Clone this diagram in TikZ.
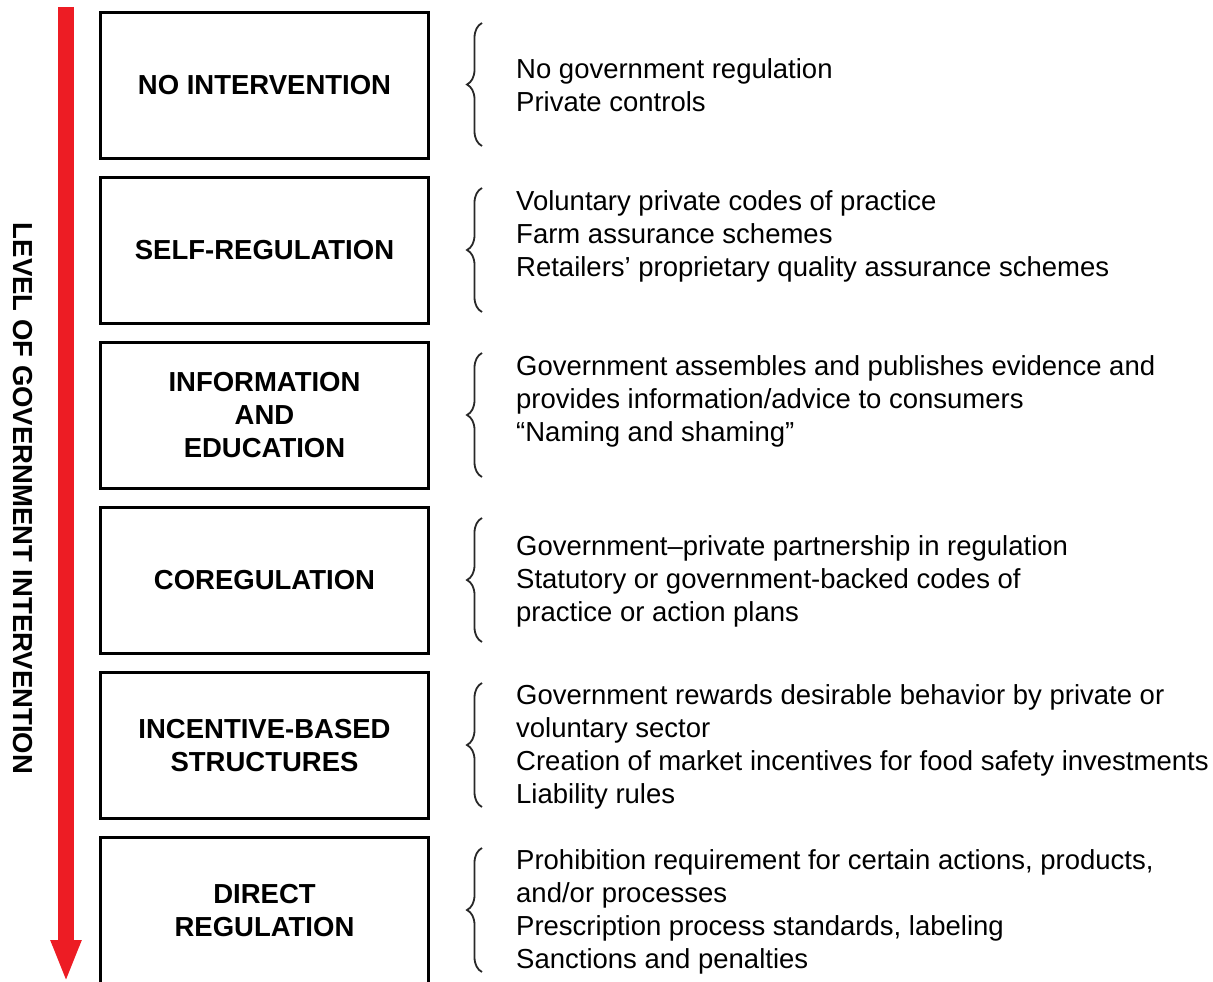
\documentclass[tikz,border=0pt]{standalone}
\usepackage{fontspec}
\setmainfont{Liberation Sans}
\usepackage{tikz}
\usetikzlibrary{arrows.meta,decorations.pathreplacing}
\definecolor{arrowred}{RGB}{237,28,36}
\definecolor{bracegray}{RGB}{40,40,40}
\tikzset{
    levelbox/.style={
        draw,
        line width=3pt,
        minimum width=328pt,
        minimum height=146pt,
        align=center,
        font=\fontsize{27.5}{33}\selectfont\bfseries
    },
    measuretext/.style={
        anchor=base west,
        inner sep=0pt,
        align=left,
        font=\fontsize{27.5}{33}\selectfont
    },
    levelbrace/.style={
        decorate,
        decoration={brace,amplitude=15pt},
        line width=1.8pt,
        color=bracegray
    },
    intervarrow/.style={
        draw=arrowred,
        line width=16pt,
        -{Triangle[width=28pt,length=42pt]}
    }
}
\begin{document}
\begin{tikzpicture}[x=1pt,y=-1pt]
    \clip (0,0) rectangle (1213,982);

    %% Left: level of intervention
    \coordinate (lvtop) at (66,7);
    \coordinate (lvbot) at (66,982);
    \draw[intervarrow] (lvtop) -- (lvbot);
    \node (lvl) [rotate=-90,font=\fontsize{27.5}{33}\selectfont\bfseries] at (23,498.5) {LEVEL OF GOVERNMENT INTERVENTION};

    %% L1: No intervention
    \node (B1) [levelbox] at (264.5,85.5) {NO INTERVENTION};
    \draw[levelbrace] (482,146) -- (482,23);
    \node (T1) [measuretext] at (516,111) {No government regulation\\Private controls};

    %% L2: Self-regulation
    \node (B2) [levelbox] at (264.5,250.5) {SELF-REGULATION};
    \draw[levelbrace] (482,312) -- (482,188);
    \node (T2) [measuretext] at (516,276) {Voluntary private codes of practice\\Farm assurance schemes\\Retailers’ proprietary quality assurance schemes};

    %% L3: Information and education
    \node (B3) [levelbox] at (264.5,415.5) {INFORMATION\\AND\\EDUCATION};
    \draw[levelbrace] (482,477) -- (482,353);
    \node (T3) [measuretext] at (516,441) {Government assembles and publishes evidence and\\provides information/advice to consumers\\“Naming and shaming”};

    %% L4: Coregulation
    \node (B4) [levelbox] at (264.5,580.5) {COREGULATION};
    \draw[levelbrace] (482,642) -- (482,518);
    \node (T4) [measuretext] at (516,621) {Government–private partnership in regulation\\Statutory or government-backed codes of\\practice or action plans};

    %% L5: Incentive-based structures
    \node (B5) [levelbox] at (264.5,745.5) {INCENTIVE-BASED\\STRUCTURES};
    \draw[levelbrace] (482,807) -- (482,683);
    \node (T5) [measuretext] at (516,803) {Government rewards desirable behavior by private or\\voluntary sector\\Creation of market incentives for food safety investments\\Liability rules};

    %% L6: Direct regulation
    \node (B6) [levelbox] at (264.5,910.5) {DIRECT\\REGULATION};
    \draw[levelbrace] (482,972) -- (482,848);
    \node (T6) [measuretext] at (516,968) {Prohibition requirement for certain actions, products,\\and/or processes\\Prescription process standards, labeling\\Sanctions and penalties};

\end{tikzpicture}
\end{document}
